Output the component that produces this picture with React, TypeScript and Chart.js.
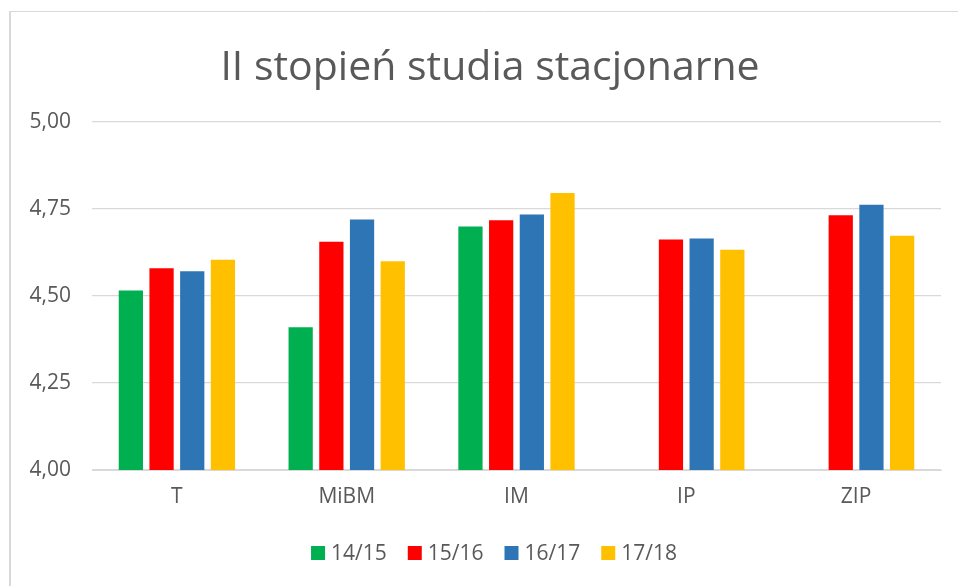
import React, { useEffect, useRef } from "react";
import { Chart, registerables } from "chart.js";

Chart.register(...registerables);

const TITLE = "II stopień studia stacjonarne";
const categories = ["T", "MiBM", "IM", "IP", "ZIP"];
const seriesLabels = ["14/15", "15/16", "16/17", "17/18"];
const s1415 = [4.516, 4.41, 4.70, null, null];
const s1516 = [4.58, 4.656, 4.718, 4.662, 4.732];
const s1617 = [4.571, 4.72, 4.734, 4.665, 4.762];
const s1718 = [4.604, 4.60, 4.796, 4.633, 4.673];
const seriesColors = ["#00B050", "#FF0000", "#2E75B6", "#FFC000"];
const yMin = 4;
const yMax = 5;
const yStep = 0.25;

const FONT = "'Open Sans', 'DejaVu Sans', sans-serif";
const TEXT = "#595959";
const GRID = "#d9d9d9";

const decor = {
  id: "decor",
  beforeDraw(chart: any) {
    const ctx = chart.ctx;
    ctx.save();
    ctx.fillStyle = "#ffffff";
    ctx.fillRect(0, 0, chart.width, chart.height);
    ctx.strokeStyle = GRID;
    ctx.lineWidth = 2;
    ctx.beginPath();
    ctx.moveTo(10, 11);
    ctx.lineTo(10, chart.height);
    ctx.stroke();
    ctx.lineWidth = 1;
    ctx.beginPath();
    ctx.moveTo(9, 11.5);
    ctx.lineTo(chart.width, 11.5);
    ctx.stroke();
    ctx.restore();
  },
  afterDraw(chart: any) {
    const ctx = chart.ctx;
    ctx.save();
    ctx.fillStyle = TEXT;
    ctx.font = `41px ${FONT}`;
    ctx.textAlign = "center";
    ctx.textBaseline = "alphabetic";
    ctx.fillText(TITLE, 490, 80);

    ctx.font = `21px ${FONT}`;
    ctx.textAlign = "left";
    const box = 14;
    const gapBoxText = 6;
    const gapItems = 21;
    const widths = chart.data.datasets.map((d: any) => ctx.measureText(d.label).width);
    let total = 0;
    widths.forEach((w: number, i: number) => {
      total += box + gapBoxText + w + (i < widths.length - 1 ? gapItems : 0);
    });
    let x = 494 - total / 2;
    const cy = 553;
    chart.data.datasets.forEach((d: any, i: number) => {
      ctx.fillStyle = d.backgroundColor;
      ctx.fillRect(x, cy - box / 2, box, box);
      ctx.fillStyle = TEXT;
      ctx.textBaseline = "middle";
      ctx.fillText(d.label, x + box + gapBoxText, cy + 1);
      x += box + gapBoxText + widths[i] + gapItems;
    });
    ctx.restore();
  },
};

export default function App() {
  const ref = useRef<HTMLCanvasElement>(null);
  useEffect(() => {
    if (!ref.current) return;
    const all = [s1415, s1516, s1617, s1718];
    const chart = new Chart(ref.current, {
      type: "bar",
      data: {
        labels: categories,
        datasets: all.map((data, i) => ({
          label: seriesLabels[i],
          data,
          backgroundColor: seriesColors[i],
          borderWidth: 0,
          barPercentage: 0.79,
          categoryPercentage: 0.723,
        })),
      },
      options: {
        responsive: false,
        animation: false,
        layout: { padding: { left: 0, right: 17, top: 122, bottom: 0 } },
        plugins: {
          legend: { display: false },
          title: { display: false },
          tooltip: { enabled: false },
        },
        scales: {
          x: {
            grid: { display: false, drawTicks: false },
            border: { display: true, color: GRID, width: 1 },
            ticks: { color: TEXT, font: { size: 21, family: FONT }, padding: 14 },
            afterFit(scale: any) {
              scale.height = 586 - 470;
            },
          },
          y: {
            min: yMin,
            max: yMax,
            grid: { color: GRID, lineWidth: 1.3, drawTicks: false },
            border: { display: false },
            ticks: {
              stepSize: yStep,
              color: TEXT,
              font: { size: 21, family: FONT },
              padding: 21,
              callback: (v: any) => Number(v).toFixed(2).replace(".", ","),
            },
            afterFit(scale: any) {
              scale.width = 92;
            },
          },
        },
      },
      plugins: [decor],
    });
    return () => chart.destroy();
  }, []);
  return (
    <div style={{ position: "fixed", left: 0, top: 0, width: 958, height: 586, overflow: "hidden", background: "#fff" }}>
      <canvas ref={ref} width={958} height={586} style={{ display: "block" }} />
    </div>
  );
}
